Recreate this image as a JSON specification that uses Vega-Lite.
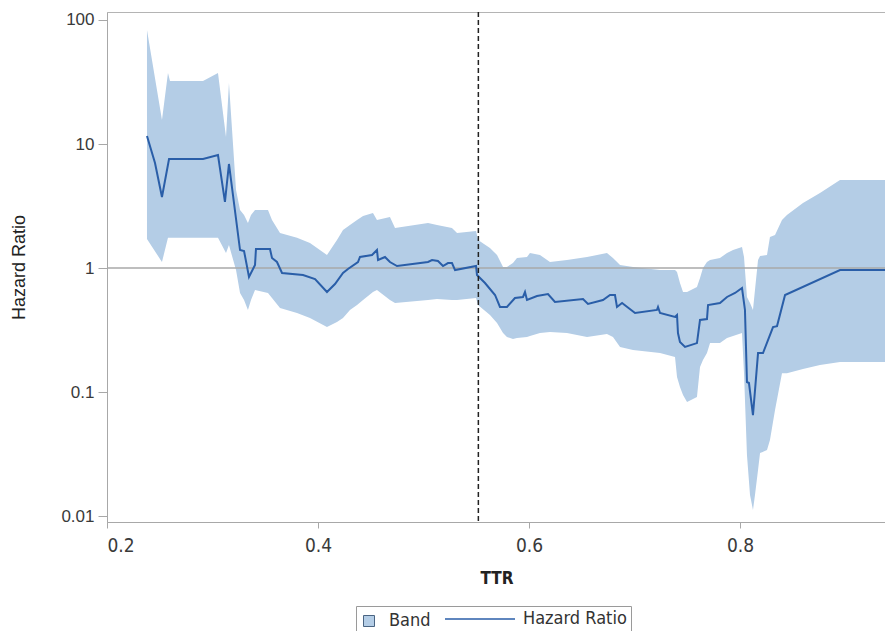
{
  "$schema": "https://vega.github.io/schema/vega-lite/v6.json",
  "width": 779,
  "height": 510,
  "autosize": {"type": "none"},
  "padding": {"left": 107, "top": 12, "right": 0, "bottom": 109},
  "background": "white",
  "config": {
    "view": {"stroke": "#b4b4b4", "strokeWidth": 1},
    "axis": {
      "grid": false,
      "domainColor": "#a8a8a8",
      "tickColor": "#a8a8a8",
      "labelColor": "#3a3a3a",
      "titleColor": "#222222"
    }
  },
  "datasets": {
    "band": [
      {"ttr": 0.2379, "lo": 1.71, "hi": 83.1},
      {"ttr": 0.2521, "lo": 1.118, "hi": 15.6},
      {"ttr": 0.2578, "lo": 1.75, "hi": 37.4},
      {"ttr": 0.2597, "lo": 1.75, "hi": 32.2},
      {"ttr": 0.291, "lo": 1.75, "hi": 32.2},
      {"ttr": 0.3052, "lo": 1.75, "hi": 37.4},
      {"ttr": 0.3128, "lo": 1.32, "hi": 11.39},
      {"ttr": 0.3156, "lo": 1.53, "hi": 31.0},
      {"ttr": 0.3223, "lo": 0.963, "hi": 4.26},
      {"ttr": 0.3261, "lo": 0.629, "hi": 2.94},
      {"ttr": 0.3299, "lo": 0.552, "hi": 2.68},
      {"ttr": 0.3336, "lo": 0.459, "hi": 2.31},
      {"ttr": 0.3365, "lo": 0.552, "hi": 2.68},
      {"ttr": 0.3403, "lo": 0.665, "hi": 2.94},
      {"ttr": 0.3526, "lo": 0.629, "hi": 2.94},
      {"ttr": 0.3564, "lo": 0.573, "hi": 2.44},
      {"ttr": 0.364, "lo": 0.476, "hi": 1.92},
      {"ttr": 0.3801, "lo": 0.434, "hi": 1.75},
      {"ttr": 0.3924, "lo": 0.395, "hi": 1.59},
      {"ttr": 0.4085, "lo": 0.334, "hi": 1.273},
      {"ttr": 0.418, "lo": 0.367, "hi": 1.68},
      {"ttr": 0.4237, "lo": 0.395, "hi": 2.03},
      {"ttr": 0.4303, "lo": 0.459, "hi": 2.22},
      {"ttr": 0.437, "lo": 0.503, "hi": 2.44},
      {"ttr": 0.4427, "lo": 0.552, "hi": 2.63},
      {"ttr": 0.4521, "lo": 0.64, "hi": 2.78},
      {"ttr": 0.4559, "lo": 0.665, "hi": 2.44},
      {"ttr": 0.4682, "lo": 0.552, "hi": 2.58},
      {"ttr": 0.473, "lo": 0.522, "hi": 2.1},
      {"ttr": 0.5043, "lo": 0.552, "hi": 2.31},
      {"ttr": 0.5128, "lo": 0.562, "hi": 2.22},
      {"ttr": 0.527, "lo": 0.552, "hi": 2.1},
      {"ttr": 0.5318, "lo": 0.552, "hi": 1.92},
      {"ttr": 0.5498, "lo": 0.573, "hi": 1.99},
      {"ttr": 0.5517, "lo": 0.503, "hi": 1.68},
      {"ttr": 0.563, "lo": 0.418, "hi": 1.45},
      {"ttr": 0.5697, "lo": 0.36, "hi": 1.273},
      {"ttr": 0.5754, "lo": 0.299, "hi": 1.019},
      {"ttr": 0.5791, "lo": 0.278, "hi": 1.019},
      {"ttr": 0.5848, "lo": 0.268, "hi": 1.097},
      {"ttr": 0.5886, "lo": 0.273, "hi": 1.204},
      {"ttr": 0.5981, "lo": 0.278, "hi": 1.227},
      {"ttr": 0.6009, "lo": 0.283, "hi": 1.32},
      {"ttr": 0.6104, "lo": 0.299, "hi": 1.273},
      {"ttr": 0.6199, "lo": 0.305, "hi": 1.118},
      {"ttr": 0.636, "lo": 0.299, "hi": 1.16},
      {"ttr": 0.655, "lo": 0.278, "hi": 1.227},
      {"ttr": 0.6739, "lo": 0.294, "hi": 1.32},
      {"ttr": 0.6796, "lo": 0.278, "hi": 1.204},
      {"ttr": 0.6863, "lo": 0.231, "hi": 1.057},
      {"ttr": 0.6986, "lo": 0.218, "hi": 1.019},
      {"ttr": 0.7242, "lo": 0.206, "hi": 0.963},
      {"ttr": 0.7384, "lo": 0.192, "hi": 0.963},
      {"ttr": 0.7403, "lo": 0.132, "hi": 0.928},
      {"ttr": 0.7431, "lo": 0.11, "hi": 0.757},
      {"ttr": 0.746, "lo": 0.0946, "hi": 0.64},
      {"ttr": 0.7498, "lo": 0.0831, "hi": 0.64},
      {"ttr": 0.7592, "lo": 0.0912, "hi": 0.703},
      {"ttr": 0.7621, "lo": 0.159, "hi": 0.831},
      {"ttr": 0.7649, "lo": 0.181, "hi": 1.0},
      {"ttr": 0.7687, "lo": 0.206, "hi": 1.118},
      {"ttr": 0.7716, "lo": 0.248, "hi": 1.16},
      {"ttr": 0.781, "lo": 0.248, "hi": 1.204},
      {"ttr": 0.7877, "lo": 0.273, "hi": 1.32},
      {"ttr": 0.7934, "lo": 0.283, "hi": 1.397},
      {"ttr": 0.8019, "lo": 0.299, "hi": 1.48},
      {"ttr": 0.8038, "lo": 0.142, "hi": 1.227},
      {"ttr": 0.8066, "lo": 0.031, "hi": 0.584},
      {"ttr": 0.8095, "lo": 0.0148, "hi": 0.522},
      {"ttr": 0.8123, "lo": 0.0112, "hi": 0.459},
      {"ttr": 0.8142, "lo": 0.0148, "hi": 0.665},
      {"ttr": 0.8171, "lo": 0.0235, "hi": 1.16},
      {"ttr": 0.819, "lo": 0.0322, "hi": 1.25},
      {"ttr": 0.8256, "lo": 0.034, "hi": 1.273},
      {"ttr": 0.8284, "lo": 0.041, "hi": 1.78},
      {"ttr": 0.8332, "lo": 0.0716, "hi": 1.85},
      {"ttr": 0.8398, "lo": 0.142, "hi": 2.44},
      {"ttr": 0.8445, "lo": 0.142, "hi": 2.68},
      {"ttr": 0.8597, "lo": 0.153, "hi": 3.34},
      {"ttr": 0.8758, "lo": 0.165, "hi": 4.03},
      {"ttr": 0.8948, "lo": 0.175, "hi": 5.13},
      {"ttr": 0.9384, "lo": 0.175, "hi": 5.13}
    ],
    "hr": [
      {"ttr": 0.2379, "hr": 11.6},
      {"ttr": 0.2455, "hr": 7.03},
      {"ttr": 0.2521, "hr": 3.74},
      {"ttr": 0.2588, "hr": 7.57},
      {"ttr": 0.291, "hr": 7.57},
      {"ttr": 0.3052, "hr": 8.15},
      {"ttr": 0.3118, "hr": 3.41},
      {"ttr": 0.3156, "hr": 6.9},
      {"ttr": 0.3261, "hr": 1.397},
      {"ttr": 0.3299, "hr": 1.371},
      {"ttr": 0.3346, "hr": 0.846},
      {"ttr": 0.3403, "hr": 1.057},
      {"ttr": 0.3412, "hr": 1.423},
      {"ttr": 0.3545, "hr": 1.423},
      {"ttr": 0.3564, "hr": 1.204},
      {"ttr": 0.3611, "hr": 1.118},
      {"ttr": 0.3659, "hr": 0.911},
      {"ttr": 0.3858, "hr": 0.878},
      {"ttr": 0.3972, "hr": 0.815},
      {"ttr": 0.4085, "hr": 0.64},
      {"ttr": 0.4161, "hr": 0.743},
      {"ttr": 0.4237, "hr": 0.911},
      {"ttr": 0.4284, "hr": 0.982},
      {"ttr": 0.4379, "hr": 1.118},
      {"ttr": 0.4398, "hr": 1.227},
      {"ttr": 0.4512, "hr": 1.273},
      {"ttr": 0.4559, "hr": 1.397},
      {"ttr": 0.4569, "hr": 1.16},
      {"ttr": 0.4635, "hr": 1.227},
      {"ttr": 0.4682, "hr": 1.118},
      {"ttr": 0.4749, "hr": 1.038},
      {"ttr": 0.5043, "hr": 1.118},
      {"ttr": 0.5081, "hr": 1.16},
      {"ttr": 0.5137, "hr": 1.139},
      {"ttr": 0.5185, "hr": 1.038},
      {"ttr": 0.5232, "hr": 1.097},
      {"ttr": 0.527, "hr": 1.097},
      {"ttr": 0.5299, "hr": 0.963},
      {"ttr": 0.5498, "hr": 1.038},
      {"ttr": 0.5507, "hr": 0.878},
      {"ttr": 0.5583, "hr": 0.757},
      {"ttr": 0.5678, "hr": 0.606},
      {"ttr": 0.5725, "hr": 0.485},
      {"ttr": 0.5791, "hr": 0.485},
      {"ttr": 0.5867, "hr": 0.573},
      {"ttr": 0.5943, "hr": 0.584},
      {"ttr": 0.5962, "hr": 0.64},
      {"ttr": 0.5981, "hr": 0.552},
      {"ttr": 0.6076, "hr": 0.595},
      {"ttr": 0.618, "hr": 0.617},
      {"ttr": 0.6246, "hr": 0.532},
      {"ttr": 0.6512, "hr": 0.562},
      {"ttr": 0.6559, "hr": 0.513},
      {"ttr": 0.6701, "hr": 0.552},
      {"ttr": 0.6768, "hr": 0.606},
      {"ttr": 0.6815, "hr": 0.606},
      {"ttr": 0.6834, "hr": 0.485},
      {"ttr": 0.6882, "hr": 0.522},
      {"ttr": 0.7005, "hr": 0.434},
      {"ttr": 0.7213, "hr": 0.459},
      {"ttr": 0.7223, "hr": 0.485},
      {"ttr": 0.7242, "hr": 0.434},
      {"ttr": 0.7384, "hr": 0.403},
      {"ttr": 0.7403, "hr": 0.418},
      {"ttr": 0.7412, "hr": 0.299},
      {"ttr": 0.7431, "hr": 0.253},
      {"ttr": 0.7479, "hr": 0.231},
      {"ttr": 0.7592, "hr": 0.248},
      {"ttr": 0.7621, "hr": 0.381},
      {"ttr": 0.7687, "hr": 0.388},
      {"ttr": 0.7697, "hr": 0.503},
      {"ttr": 0.781, "hr": 0.522},
      {"ttr": 0.7877, "hr": 0.584},
      {"ttr": 0.7953, "hr": 0.629},
      {"ttr": 0.8019, "hr": 0.69},
      {"ttr": 0.8047, "hr": 0.459},
      {"ttr": 0.8066, "hr": 0.1204},
      {"ttr": 0.8085, "hr": 0.1182},
      {"ttr": 0.8123, "hr": 0.0652},
      {"ttr": 0.8171, "hr": 0.206},
      {"ttr": 0.8218, "hr": 0.206},
      {"ttr": 0.8313, "hr": 0.334},
      {"ttr": 0.8351, "hr": 0.34},
      {"ttr": 0.8427, "hr": 0.606},
      {"ttr": 0.8948, "hr": 0.963},
      {"ttr": 0.9384, "hr": 0.963}
    ],
    "cut": [{"ttr": 0.552}],
    "ref": [{"hr": 1}]
  },
  "layer": [
    {
      "data": {"name": "band"},
      "mark": {"type": "area", "opacity": 1, "interpolate": "linear"},
      "encoding": {
        "x": {
          "field": "ttr", "type": "quantitative",
          "scale": {"domain": [0.2, 0.93839], "nice": false, "zero": false},
          "axis": {
            "values": [0.2, 0.4, 0.6, 0.8],
            "format": ".1f",
            "title": "TTR",
            "tickSize": 6,
            "labelPadding": 8,
            "labelFont": "DejaVu Sans Condensed, sans-serif",
            "labelFontSize": 19,
            "titleFont": "DejaVu Sans Condensed, sans-serif",
            "titleFontSize": 17,
            "titleFontWeight": "bold",
            "titlePadding": 15
          }
        },
        "y": {
          "field": "lo", "type": "quantitative",
          "scale": {"type": "log", "domain": [0.00895, 116], "nice": false},
          "axis": {
            "values": [0.01, 0.1, 1, 10, 100],
            "format": "~g",
            "title": "Hazard Ratio",
            "tickSize": 9,
            "labelPadding": 4,
            "labelFont": "Liberation Sans, Arial, sans-serif",
            "labelFontSize": 17,
            "titleFont": "Liberation Sans, Arial, sans-serif",
            "titleFontSize": 18,
            "titleFontWeight": "normal",
            "titlePadding": 32
          }
        },
        "y2": {"field": "hi"},
        "fill": {
          "datum": "Band",
          "type": "nominal",
          "scale": {"domain": ["Band"], "range": ["#b4cde6"]},
          "legend": {
            "title": null,
            "orient": "none",
            "direction": "horizontal",
            "legendX": 253,
            "legendY": 600,
            "padding": 0,
            "symbolType": "square",
            "symbolSize": 121,
            "symbolStrokeColor": "#4a6482",
            "symbolStrokeWidth": 1,
            "labelOffset": 11,
            "labelFont": "DejaVu Sans Condensed, sans-serif",
            "labelFontSize": 18,
            "labelColor": "#333333"
          }
        }
      }
    },
    {
      "data": {"name": "ref"},
      "mark": {"type": "rule", "color": "#a9a9a9", "strokeWidth": 1.3},
      "encoding": {"y": {"field": "hr", "type": "quantitative"}}
    },
    {
      "data": {"name": "hr"},
      "mark": {"type": "line", "strokeWidth": 2, "interpolate": "linear"},
      "encoding": {
        "x": {"field": "ttr", "type": "quantitative"},
        "y": {"field": "hr", "type": "quantitative"},
        "stroke": {
          "datum": "Hazard Ratio",
          "type": "nominal",
          "scale": {"domain": ["Hazard Ratio"], "range": ["#2a5ea8"]},
          "legend": {
            "title": null,
            "orient": "none",
            "direction": "horizontal",
            "legendX": 249,
            "legendY": 594,
            "padding": 4,
            "strokeColor": "#9a9a9a",
            "cornerRadius": 0,
            "symbolType": "M-7,0H7",
            "symbolSize": 100,
            "symbolOffset": 111,
            "symbolStrokeWidth": 1.5,
            "labelOffset": 34,
            "labelFont": "DejaVu Sans Condensed, sans-serif",
            "labelFontSize": 18,
            "labelColor": "#333333"
          }
        }
      }
    },
    {
      "data": {"name": "cut"},
      "mark": {"type": "rule", "color": "#222222", "strokeWidth": 1.5, "strokeDash": [5, 3]},
      "encoding": {"x": {"field": "ttr", "type": "quantitative"}}
    }
  ]
}
